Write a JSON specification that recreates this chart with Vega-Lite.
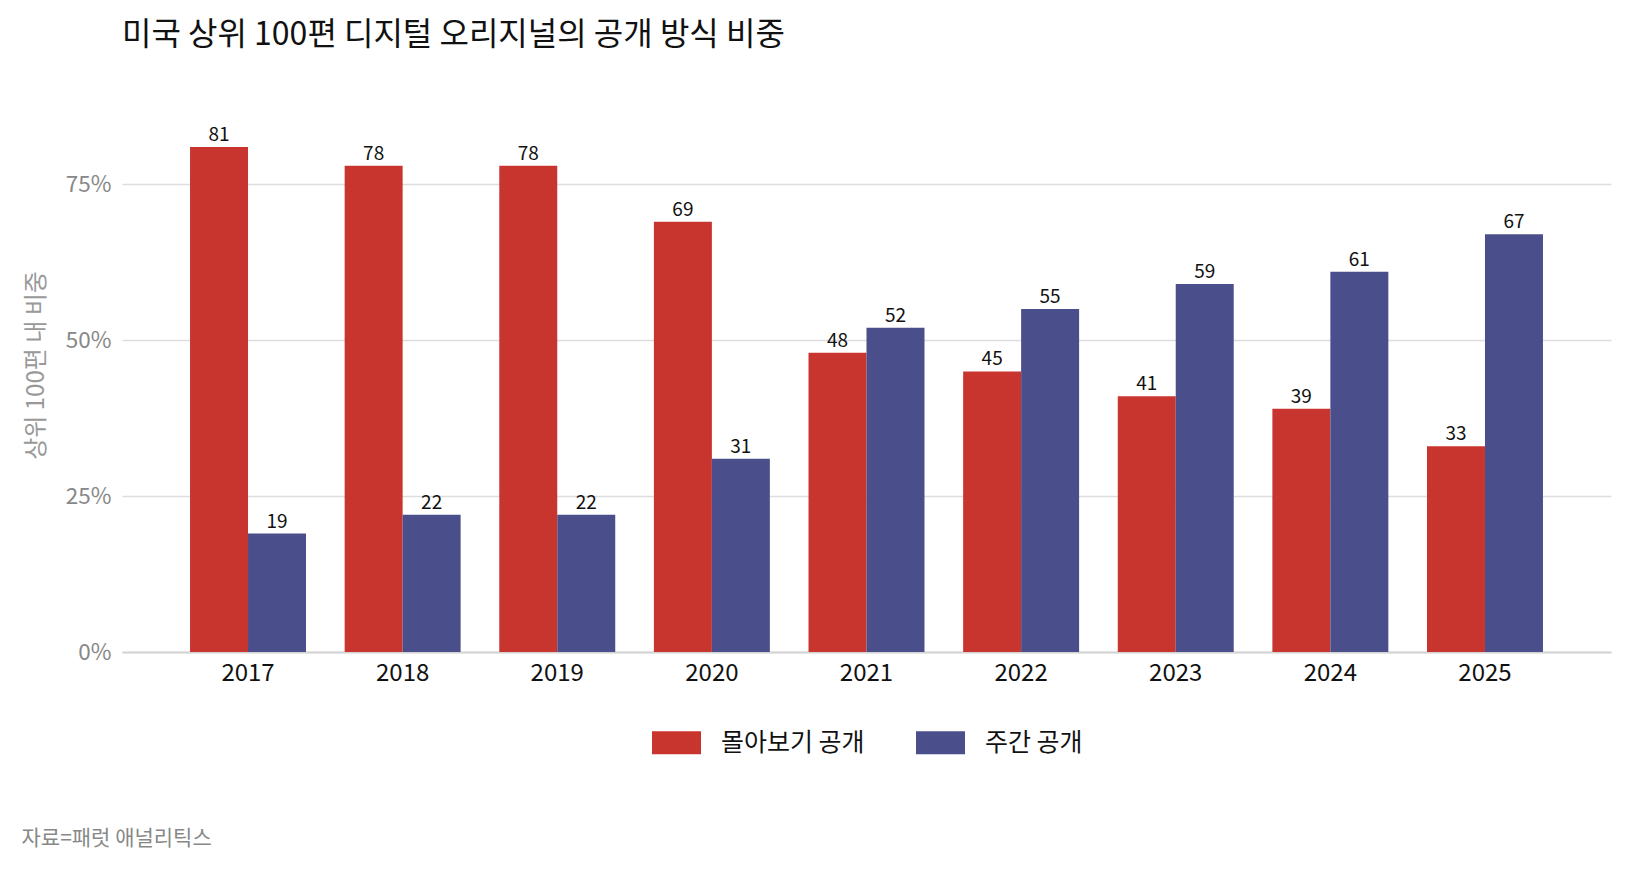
{
  "$schema": "https://vega.github.io/schema/vega-lite/v6.json",
  "autosize": "none",
  "width": 1489,
  "height": 530,
  "padding": {"left": 122, "top": 122, "right": 19, "bottom": 218},
  "background": "white",
  "title": {
    "text": "미국 상위 100편 디지털 오리지널의 공개 방식 비중",
    "anchor": "start",
    "frame": "group",
    "offset": 70,
    "fontSize": 32,
    "fontWeight": "normal",
    "color": "#111111",
    "font": "Noto Sans CJK KR"
  },
  "data": {
    "values": [
      {"year": "2017", "type": "몰아보기 공개", "value": 81},
      {"year": "2017", "type": "주간 공개", "value": 19},
      {"year": "2018", "type": "몰아보기 공개", "value": 78},
      {"year": "2018", "type": "주간 공개", "value": 22},
      {"year": "2019", "type": "몰아보기 공개", "value": 78},
      {"year": "2019", "type": "주간 공개", "value": 22},
      {"year": "2020", "type": "몰아보기 공개", "value": 69},
      {"year": "2020", "type": "주간 공개", "value": 31},
      {"year": "2021", "type": "몰아보기 공개", "value": 48},
      {"year": "2021", "type": "주간 공개", "value": 52},
      {"year": "2022", "type": "몰아보기 공개", "value": 45},
      {"year": "2022", "type": "주간 공개", "value": 55},
      {"year": "2023", "type": "몰아보기 공개", "value": 41},
      {"year": "2023", "type": "주간 공개", "value": 59},
      {"year": "2024", "type": "몰아보기 공개", "value": 39},
      {"year": "2024", "type": "주간 공개", "value": 61},
      {"year": "2025", "type": "몰아보기 공개", "value": 33},
      {"year": "2025", "type": "주간 공개", "value": 67}
    ]
  },
  "encoding": {
    "x": {
      "field": "year",
      "type": "nominal",
      "scale": {"paddingInner": 0.25, "paddingOuter": 0.44},
      "axis": {
        "title": "자료=패럿 애널리틱스",
        "titleFont": "Noto Sans CJK KR",
        "titleFontSize": 21,
        "titleFontWeight": "normal",
        "titleColor": "#888888",
        "titleAnchor": "start",
        "titleAlign": "left",
        "titleBaseline": "middle",
        "titleX": -101,
        "titleY": 186,
        "labelAngle": 0,
        "labelFont": "Noto Sans CJK KR",
        "labelFontSize": 24,
        "labelColor": "#111111",
        "labelPadding": 9,
        "ticks": false,
        "domain": true,
        "domainColor": "#d4d4d4",
        "domainWidth": 2
      }
    },
    "xOffset": {"field": "type", "type": "nominal", "sort": ["몰아보기 공개", "주간 공개"], "scale": {"paddingInner": 0, "paddingOuter": 0}},
    "y": {
      "field": "value",
      "type": "quantitative",
      "scale": {"domain": [0, 85], "nice": false},
      "axis": {
        "title": "상위 100편 내 비중",
        "titleFont": "Noto Sans CJK KR",
        "titleFontSize": 24,
        "titleFontWeight": "normal",
        "titleColor": "#999999",
        "titleAngle": -90,
        "titleAlign": "center",
        "titleBaseline": "middle",
        "titleX": -86,
        "titleY": 243,
        "values": [0, 25, 50, 75],
        "labelExpr": "datum.value + '%'",
        "labelFont": "Noto Sans CJK KR",
        "labelFontSize": 22.5,
        "labelColor": "#888888",
        "labelPadding": 11,
        "ticks": false,
        "domain": false,
        "grid": true,
        "gridColor": "#dddddd",
        "gridWidth": 1.3
      }
    }
  },
  "layer": [
    {
      "mark": {"type": "bar"},
      "encoding": {
        "color": {
          "field": "type",
          "type": "nominal",
          "sort": ["몰아보기 공개", "주간 공개"],
          "scale": {"domain": ["몰아보기 공개", "주간 공개"], "range": ["#c8352f", "#4a4f8b"]},
          "legend": {
            "title": null,
            "orient": "none",
            "direction": "horizontal",
            "legendX": 530,
            "legendY": 596,
            "symbolType": "M-1,-0.47H1V0.47H-1Z",
            "symbolSize": 2401,
            "symbolStrokeWidth": 0,
            "symbolOpacity": 1,
            "labelFont": "Noto Sans CJK KR",
            "labelFontSize": 25,
            "labelColor": "#111111",
            "labelOffset": 20,
            "columnPadding": 51,
            "labelLimit": 300
          }
        }
      }
    },
    {
      "mark": {"type": "text", "baseline": "bottom", "dy": -2, "font": "Noto Sans CJK KR", "fontSize": 19, "color": "#111111"},
      "encoding": {
        "text": {"field": "value", "type": "quantitative"}
      }
    }
  ],
  "config": {
    "view": {"stroke": null},
    "font": "Noto Sans CJK KR"
  }
}
